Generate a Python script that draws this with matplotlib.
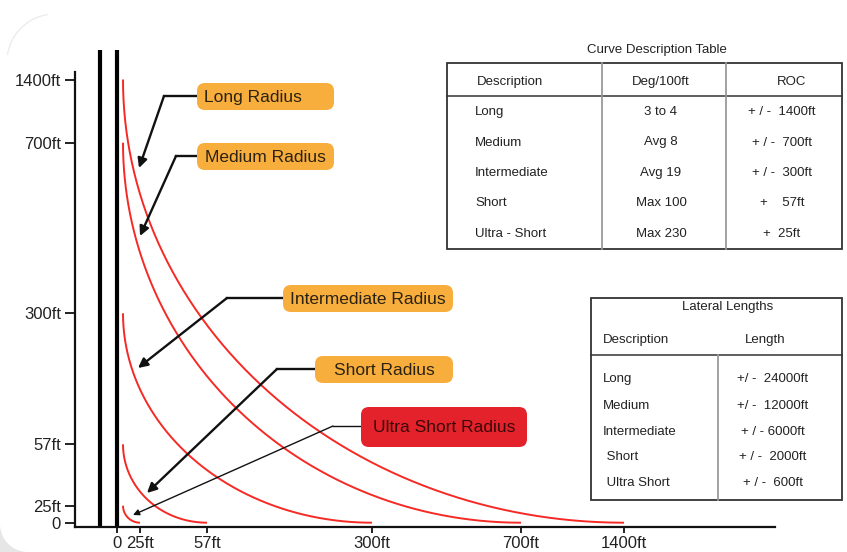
import numpy as np
import matplotlib
matplotlib.use("Agg")
import matplotlib.pyplot as plt
from matplotlib.patches import FancyBboxPatch, Rectangle, Polygon

plt.rcParams['font.family'] = ['Liberation Sans', 'DejaVu Sans']

# ---- data ----
tick_ft = [0, 25, 57, 300, 700, 1400]
tick_labels = ['0', '25ft', '57ft', '300ft', '700ft', '1400ft']
roc_ft = [1400, 700, 300, 57, 25]
radius_names = ['Long Radius', 'Medium Radius', 'Intermediate Radius',
                'Short Radius', 'Ultra Short Radius']

curve_desc = ['Long', 'Medium', 'Intermediate', 'Short', 'Ultra - Short']
curve_deg = ['3 to 4', 'Avg 8', 'Avg 19', 'Max 100', 'Max 230']
curve_roc = ['+ / -  1400ft', '+ / -  700ft', '+ / -  300ft', '+    57ft', '+  25ft']

lat_desc = ['Long', 'Medium', 'Intermediate', ' Short', ' Ultra Short']
lat_len = ['+/ -  24000ft', '+/ -  12000ft', '+ / - 6000ft', '+ / -  2000ft', '+ / -  600ft']

# ---- where the (schematic, non linear) tick values sit on the page ----
W, H = 847, 552
x_tick_px = [117, 140, 207, 372, 521, 624]
y_tick_px = [522.7, 505.7, 444.3, 313.3, 142.7, 79.5]


def piecewise(xp, fp):
    xp = np.asarray(xp, float)
    fp = np.asarray(fp, float)
    lo = (fp[1] - fp[0]) / (xp[1] - xp[0])
    hi = (fp[-1] - fp[-2]) / (xp[-1] - xp[-2])

    def f(v):
        v = np.asarray(v, float)
        out = np.interp(v, xp, fp)
        out = np.where(v < xp[0], fp[0] + (v - xp[0]) * lo, out)
        out = np.where(v > xp[-1], fp[-1] + (v - xp[-1]) * hi, out)
        return out
    return f


fx = piecewise(tick_ft, x_tick_px)
ix = piecewise(x_tick_px, tick_ft)
y_h = [H - p for p in y_tick_px]
fy = piecewise(tick_ft, y_h)
iy = piecewise(y_h, tick_ft)

fig = plt.figure(figsize=(W / 100, H / 100), dpi=100)

# faint grey page corners on the left
bg = fig.add_axes([0, 0, 1, 1])
bg.set_xlim(0, W)
bg.set_ylim(H, 0)
bg.axis('off')
a = np.linspace(np.pi / 2, np.pi, 30)
arc = np.column_stack([28 + 28 * np.cos(a), 524 + 28 * np.sin(a)])
bg.add_patch(Polygon(np.vstack([arc, [[0, H]]]), closed=True, fc='#e6e6e6', ec='none'))
a2 = np.linspace(1.05 * np.pi, 1.45 * np.pi, 30)
bg.plot(55 + 48 * np.cos(a2), 62 + 48 * np.sin(a2), color='#ececec', lw=1)

# chart axes: x from 75 to 775 px, y from 50 to 527 px
ax_l, ax_r, ax_t, ax_b = 75, 775, 50, 527
ax = fig.add_axes([ax_l / W, (H - ax_b) / H, (ax_r - ax_l) / W, (ax_b - ax_t) / H])
ax.set_xscale('function', functions=(fx, ix))
ax.set_yscale('function', functions=(fy, iy))
ax.set_xlim(float(ix(ax_l)), float(ix(ax_r)))
ax.set_ylim(float(iy(H - ax_b)), float(iy(H - ax_t)))
ax.patch.set_alpha(0)

for s in ['top', 'right']:
    ax.spines[s].set_visible(False)
for s in ['left', 'bottom']:
    ax.spines[s].set_linewidth(1.6)
    ax.spines[s].set_color('#111111')
ax.spines['left'].set_bounds(float(iy(H - ax_b)), float(iy(H - 72)))

ax.set_xticks(tick_ft)
ax.set_xticklabels(tick_labels)
ax.set_yticks(tick_ft)
ax.set_yticklabels(tick_labels)
ax.minorticks_off()
ax.tick_params(axis='y', length=7, width=1.3, pad=3, labelsize=12, colors='#111111', labelcolor='#222222')
ax.tick_params(axis='x', length=4.5, width=1.3, pad=2, labelsize=12, colors='#111111', labelcolor='#222222')

# well bore
ax.axvline(0, color='black', lw=3)
ax.axvline(float(ix(fx(0) - 17)), color='black', lw=3)

# build curves: quarter ellipses from the top at the ROC to the ROC on the ground line
t = np.linspace(0, np.pi / 2, 200)
for r in roc_ft:
    xs0, xs1 = fx(0) + 6, fx(r)
    ys0, ys1 = fy(r), fy(0)
    xs = xs1 - (xs1 - xs0) * np.cos(t)
    ys = ys0 - (ys0 - ys1) * np.sin(t)
    ax.plot(ix(xs), iy(ys), color='#f52a25', lw=1.4, solid_capstyle='butt')

# ---- overlay in page pixels for labels and tables ----
ov = fig.add_axes([0, 0, 1, 1])
ov.set_xlim(0, W)
ov.set_ylim(H, 0)
ov.axis('off')
ov.patch.set_alpha(0)

# label boxes (x0, y0, x1, y1), elbow, arrow tip
boxes = [(197, 83, 334, 110), (197, 143, 334, 170), (283, 285, 453, 312),
         (315, 356, 453, 383), (361, 407, 527, 447)]
elbows = [(164, 96), (176, 156), (227, 298), (277, 369), (333, 426)]
tips = [(139, 168), (140, 236), (138, 368), (147, 493), (133, 515)]
box_cols = ['#f8ae3d', '#f8ae3d', '#f8ae3d', '#f8ae3d', '#e4222b']
txt_cols = ['#2b2213', '#2b2213', '#2b2213', '#2b2213', '#3a0808']

for i, name in enumerate(radius_names):
    x0, y0, x1, y1 = boxes[i]
    ov.add_patch(FancyBboxPatch((x0, y0), x1 - x0, y1 - y0,
                                boxstyle='round,pad=0,rounding_size=8',
                                fc=box_cols[i], ec='none', zorder=3))
    if i == 0:
        ov.text(x0 + 7, (y0 + y1) / 2 + 1, name, ha='left', va='center',
                fontsize=12.5, color=txt_cols[i], zorder=4)
    else:
        ov.text((x0 + x1) / 2, (y0 + y1) / 2 + 1, name, ha='center', va='center',
                fontsize=12.5, color=txt_cols[i], zorder=4)
    thin = i == 4
    lw = 1.0 if thin else 1.7
    ov.plot([x0, elbows[i][0]], [elbows[i][1], elbows[i][1]], color='#111111', lw=lw, zorder=2)
    ov.annotate('', xy=tips[i], xytext=elbows[i],
                arrowprops=dict(arrowstyle='-|>', color='#111111', lw=lw,
                                mutation_scale=9 if thin else 14, shrinkA=0, shrinkB=0),
                zorder=2)

# curve description table
fs = 9.5
tc = '#222222'
ov.text(657, 50, 'Curve Description Table', ha='center', va='center', fontsize=fs, color=tc)
ov.add_patch(Rectangle((447, 63), 842 - 447, 249 - 63, fill=False, ec='#333333', lw=1.3))
ov.plot([447, 842], [96, 96], color='#333333', lw=1.1)
for cx in [602, 726]:
    ov.plot([cx, cx], [63, 249], color='#9a9a9a', lw=1.3)
ov.text(510, 82, 'Description', ha='center', va='center', fontsize=fs, color=tc)
ov.text(661, 82, 'Deg/100ft', ha='center', va='center', fontsize=fs, color=tc)
ov.text(792, 82, 'ROC', ha='center', va='center', fontsize=fs, color=tc)
rows_y = np.linspace(112, 234, len(curve_desc))
for i, yy in enumerate(rows_y):
    ov.text(475, yy, curve_desc[i], ha='left', va='center', fontsize=fs, color=tc)
    ov.text(661, yy, curve_deg[i], ha='center', va='center', fontsize=fs, color=tc)
    ov.text(782, yy, curve_roc[i], ha='center', va='center', fontsize=fs, color=tc)

# lateral lengths table
ov.add_patch(Rectangle((591, 298), 842 - 591, 500 - 298, fill=False, ec='#333333', lw=1.3))
ov.plot([591, 842], [355, 355], color='#333333', lw=1.1)
ov.plot([718, 718], [355, 500], color='#9a9a9a', lw=1.3)
ov.text(728, 307, 'Lateral Lengths', ha='center', va='center', fontsize=fs, color=tc)
ov.text(603, 340, 'Description', ha='left', va='center', fontsize=fs, color=tc)
ov.text(765, 340, 'Length', ha='center', va='center', fontsize=fs, color=tc)
lat_y = [379, 406, 432, 457, 483]
for i, yy in enumerate(lat_y):
    ov.text(603, yy, lat_desc[i], ha='left', va='center', fontsize=fs, color=tc)
    ov.text(773, yy, lat_len[i], ha='center', va='center', fontsize=fs, color=tc)

fig.savefig('out.png', dpi=100, facecolor='white')
